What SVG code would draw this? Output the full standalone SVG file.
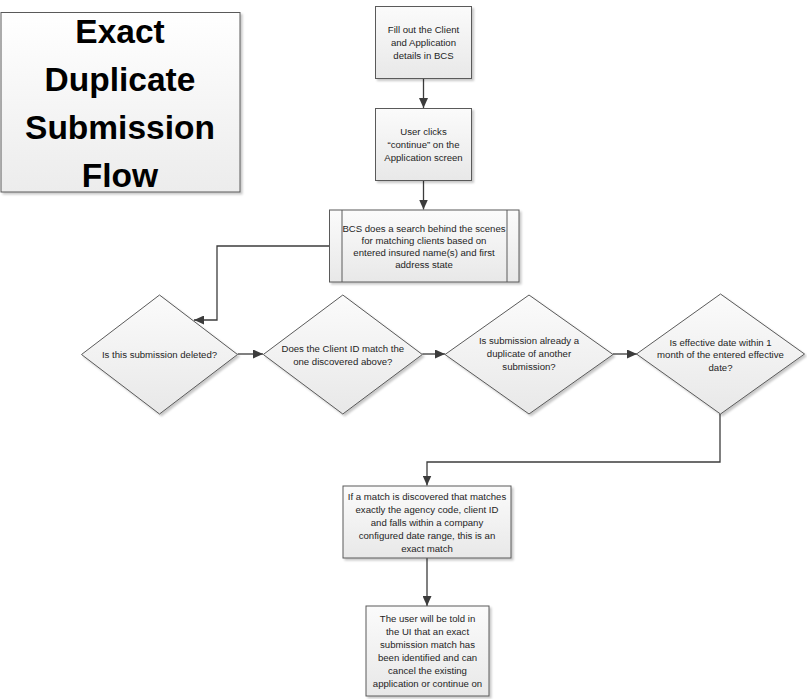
<svg xmlns="http://www.w3.org/2000/svg" width="807" height="699" viewBox="0 0 807 699">
<style>
.shape{fill:url(#g);stroke:#5a5a5a;stroke-width:1;filter:url(#sh)}
.title{fill:url(#g2);stroke:#5a5a5a;stroke-width:1;filter:url(#sh)}
.t{font-family:"Liberation Sans",Arial,sans-serif;font-size:9.6px;fill:#1e1e1e;text-anchor:middle}
.tt{font-family:"Liberation Sans",Arial,sans-serif;font-size:33.5px;font-weight:bold;fill:#000;text-anchor:middle}
.c{fill:none;stroke:#3c3c3c;stroke-width:1.3;marker-end:url(#ah)}
</style>
<defs>
<linearGradient id="g" x1="0" y1="0" x2="0" y2="1"><stop offset="0" stop-color="#fbfbfb"/><stop offset="1" stop-color="#e8e8e8"/></linearGradient>
<linearGradient id="g2" x1="0" y1="0" x2="0" y2="1"><stop offset="0" stop-color="#ffffff"/><stop offset="1" stop-color="#ececec"/></linearGradient>
<filter id="sh" x="-10%" y="-10%" width="130%" height="130%"><feDropShadow dx="2" dy="2" stdDeviation="1.3" flood-color="#000" flood-opacity="0.22"/></filter>
<marker id="ah" markerUnits="userSpaceOnUse" markerWidth="10" markerHeight="9" refX="10" refY="4.5" orient="auto"><path d="M0,0 L10,4.5 L0,9 z" fill="#3c3c3c"/></marker>
</defs>
<rect width="807" height="699" fill="#fff"/>
<g id="title">
<rect class="title" x="1" y="12.5" width="239" height="179.5"/>
<text class="tt" x="120" y="42.5">Exact</text>
<text class="tt" x="120" y="90.5">Duplicate</text>
<text class="tt" x="120" y="139">Submission</text>
<text class="tt" x="120" y="187">Flow</text>
</g>
<g id="connectors">
<path class="c" d="M423.5,78.5 V108"/>
<path class="c" d="M423.5,180.5 V209.5"/>
<path class="c" d="M329,246 H217 V320 H194"/>
<path class="c" d="M237.7,354 H263"/>
<path class="c" d="M422.3,354 H445"/>
<path class="c" d="M613,354 H637"/>
<path class="c" d="M720,414 V462 H427 V485.5"/>
<path class="c" d="M427,558 V606"/>
</g>
<g id="fill-details">
<rect class="shape" x="375.5" y="6.5" width="96" height="72"/>
<text class="t" x="423.5" y="33">Fill out the Client</text>
<text class="t" x="423.5" y="46">and Application</text>
<text class="t" x="423.5" y="59">details in BCS</text>
</g>
<g id="user-clicks">
<rect class="shape" x="375.5" y="108.5" width="96" height="72"/>
<text class="t" x="423.5" y="135">User clicks</text>
<text class="t" x="423.5" y="148">“continue” on the</text>
<text class="t" x="423.5" y="160.5">Application screen</text>
</g>
<g id="bcs-search">
<rect class="shape" x="329.5" y="210" width="189.5" height="72"/>
<line x1="342" y1="210" x2="342" y2="282" stroke="#5a5a5a" stroke-width="1"/>
<line x1="507" y1="210" x2="507" y2="282" stroke="#5a5a5a" stroke-width="1"/>
<text class="t" x="424" y="231.5">BCS does a search behind the scenes</text>
<text class="t" x="424" y="243.5">for matching clients based on</text>
<text class="t" x="424" y="255.5">entered insured name(s) and first</text>
<text class="t" x="424" y="267.5">address state</text>
</g>
<g id="deleted">
<polygon class="shape" points="159.5,295 237.5,354.5 159.5,414 81.5,354.5"/>
<text class="t" x="159.5" y="357.5">Is this submission deleted?</text>
</g>
<g id="client-id">
<polygon class="shape" points="342.8,295 422.3,354.5 342.8,414 263.3,354.5"/>
<text class="t" x="342.8" y="351.5">Does the Client ID match the</text>
<text class="t" x="342.8" y="365">one discovered above?</text>
</g>
<g id="duplicate">
<polygon class="shape" points="529,295 613,354.5 529,414 445,354.5"/>
<text class="t" x="529" y="343.5">Is submission already a</text>
<text class="t" x="529" y="357">duplicate of another</text>
<text class="t" x="529" y="370">submission?</text>
</g>
<g id="effective-date">
<polygon class="shape" points="720.5,294 804.5,354 720.5,414 636.5,354"/>
<text class="t" x="720.5" y="345.5">Is effective date within 1</text>
<text class="t" x="720.5" y="358">month of the entered effective</text>
<text class="t" x="720.5" y="370.5">date?</text>
</g>
<g id="exact-match">
<rect class="shape" x="343" y="486" width="168" height="72"/>
<text class="t" x="427" y="500">If a match is discovered that matches</text>
<text class="t" x="427" y="513">exactly the agency code, client ID</text>
<text class="t" x="427" y="526">and falls within a company</text>
<text class="t" x="427" y="539">configured date range, this is an</text>
<text class="t" x="427" y="552">exact match</text>
</g>
<g id="user-told">
<rect class="shape" x="366" y="606" width="123" height="90"/>
<text class="t" x="427.5" y="622">The user will be told in</text>
<text class="t" x="427.5" y="635">the UI that an exact</text>
<text class="t" x="427.5" y="648">submission match has</text>
<text class="t" x="427.5" y="660.5">been identified and can</text>
<text class="t" x="427.5" y="674">cancel the existing</text>
<text class="t" x="427.5" y="686.5">application or continue on</text>
</g>
</svg>
